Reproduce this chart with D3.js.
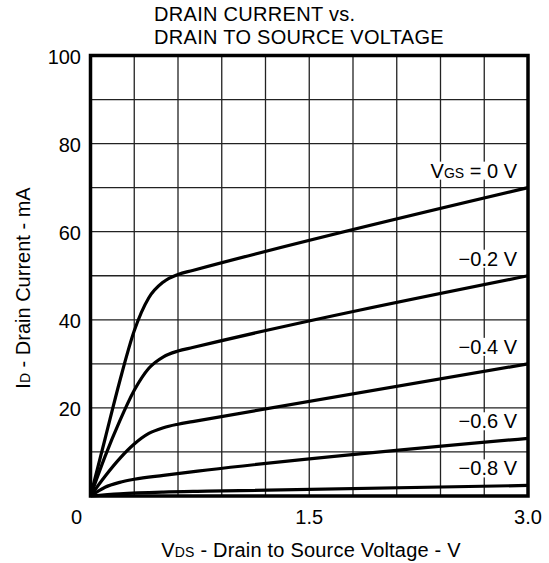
<!DOCTYPE html>
<html>
<head>
<meta charset="utf-8">
<script src="https://cdn.jsdelivr.net/npm/d3@7"></script>
<style>
  body { margin: 0; background: #fff; }
  svg text { font-family: "Liberation Sans", Arial, sans-serif; fill: #000; }
</style>
</head>
<body>
<div class="chart"></div>
<script>
const width = 549;
const height = 563;
const margin = {top: 55.5, right: 21, bottom: 67, left: 90.5};
const fontSize = 20;
const subSize = 14;

// values: [VDS (V), ID (mA)]
const vgs0 = [[0, 0], [0.1, 13], [0.2, 26], [0.3, 37.5], [0.4, 45], [0.5, 48.6], [0.6, 50.3], [0.7, 51.2], [3.0, 70]];
const vgs02 = [[0, 0], [0.1, 9], [0.2, 17], [0.3, 24], [0.4, 29], [0.5, 31.6], [0.6, 32.9], [0.7, 33.7], [3.0, 50]];
const vgs04 = [[0, 0], [0.1, 4.5], [0.2, 8.5], [0.3, 11.8], [0.4, 14.2], [0.5, 15.5], [0.6, 16.3], [0.7, 16.9], [3.0, 30]];
const vgs06 = [[0, 0], [0.1, 2], [0.2, 3.1], [0.3, 3.8], [0.5, 4.7], [0.8, 5.9], [3.0, 13.1]];
const vgs08 = [[0, 0], [0.2, 0.5], [0.5, 0.9], [0.8, 1.1], [3.0, 2.4]];

const curveLabels = [
  {main: 'V', sub: 'GS', rest: ' = 0 V', at: 70},
  {main: '', sub: '', rest: '\u22120.2 V', at: 50},
  {main: '', sub: '', rest: '\u22120.4 V', at: 30},
  {main: '', sub: '', rest: '\u22120.6 V', at: 13.1},
  {main: '', sub: '', rest: '\u22120.8 V', at: 2.4},
];

const xTickValues = [0, 1.5, 3.0];
const yTickValues = [20, 40, 60, 80, 100];
const xGrid = d3.range(0, 3.01, 0.3);
const yGrid = d3.range(0, 101, 10);

const x = d3.scaleLinear().domain([0, 3]).range([margin.left, width - margin.right]);
const y = d3.scaleLinear().domain([0, 100]).range([height - margin.bottom, margin.top]);

const svg = d3.select('.chart')
  .append('svg')
    .attr('width', width)
    .attr('height', height);

// grid
svg.append('g')
  .selectAll('line')
  .data(xGrid)
  .enter().append('line')
    .attr('x1', d => x(d)).attr('x2', d => x(d))
    .attr('y1', y(0)).attr('y2', y(100))
    .attr('stroke', '#222')
    .attr('stroke-width', 1.3);

svg.append('g')
  .selectAll('line')
  .data(yGrid)
  .enter().append('line')
    .attr('x1', x(0)).attr('x2', x(3))
    .attr('y1', d => y(d)).attr('y2', d => y(d))
    .attr('stroke', '#222')
    .attr('stroke-width', 1.3);

// curve labels with white backing
const labelG = svg.append('g');
curveLabels.forEach(c => {
  const t = labelG.append('text')
    .attr('x', x(3) - 11)
    .attr('y', y(c.at) - 10)
    .attr('text-anchor', 'end')
    .style('font-size', fontSize + 'px');
  if (c.main) {
    t.append('tspan').text(c.main);
    t.append('tspan').style('font-size', subSize + 'px').text(c.sub);
  }
  t.append('tspan').text(c.rest);
  const bb = t.node().getBBox();
  labelG.insert('rect', 'text')
    .attr('x', bb.x - 3).attr('y', bb.y + 2)
    .attr('width', bb.width + 5).attr('height', bb.height - 4)
    .attr('fill', '#fff');
});

// curves
const line = d3.line()
  .x(d => x(d[0]))
  .y(d => y(d[1]))
  .curve(d3.curveMonotoneX);

svg.append('g')
  .selectAll('path')
  .data([vgs0, vgs02, vgs04, vgs06, vgs08])
  .enter().append('path')
    .attr('d', line)
    .attr('fill', 'none')
    .attr('stroke', '#000')
    .attr('stroke-width', 3.2)
    .attr('stroke-linejoin', 'round');

// frame
svg.append('rect')
  .attr('x', x(0)).attr('y', y(100))
  .attr('width', x(3) - x(0)).attr('height', y(0) - y(100))
  .attr('fill', 'none')
  .attr('stroke', '#000')
  .attr('stroke-width', 3.5);

// y tick labels
svg.append('g')
  .selectAll('text')
  .data(yTickValues)
  .enter().append('text')
    .attr('x', x(0) - 9.5)
    .attr('y', d => y(d))
    .attr('dy', '0.4em')
    .attr('text-anchor', 'end')
    .style('font-size', fontSize + 'px')
    .text(d => d);

// x tick labels
svg.append('g')
  .selectAll('text')
  .data(xTickValues)
  .enter().append('text')
    .attr('x', d => d === 0 ? x(0) - 14 : x(d))
    .attr('y', y(0) + 28)
    .attr('text-anchor', 'middle')
    .style('font-size', fontSize + 'px')
    .text(d => d === 0 ? '0' : d.toFixed(1));

// axis titles
const xTitle = svg.append('text')
  .attr('x', 311)
  .attr('y', 557)
  .attr('text-anchor', 'middle')
  .style('font-size', fontSize + 'px')
  .style('letter-spacing', '0.2px');
xTitle.append('tspan').text('V');
xTitle.append('tspan').style('font-size', subSize + 'px').text('DS');
xTitle.append('tspan').text(' - Drain to Source Voltage - V');

const yTitle = svg.append('text')
  .attr('transform', 'translate(30, 288) rotate(-90)')
  .attr('text-anchor', 'middle')
  .style('font-size', fontSize + 'px');
yTitle.append('tspan').text('I');
yTitle.append('tspan').style('font-size', subSize + 'px').text('D');
yTitle.append('tspan').text(' - Drain Current - mA');

// title
svg.append('text')
  .attr('x', 154)
  .attr('y', 21)
  .style('font-size', fontSize + 'px')
  .style('letter-spacing', '0.3px')
  .text('DRAIN CURRENT vs.');
svg.append('text')
  .attr('x', 154)
  .attr('y', 43.5)
  .style('font-size', fontSize + 'px')
  .style('letter-spacing', '0.3px')
  .text('DRAIN TO SOURCE VOLTAGE');
</script>
</body>
</html>
